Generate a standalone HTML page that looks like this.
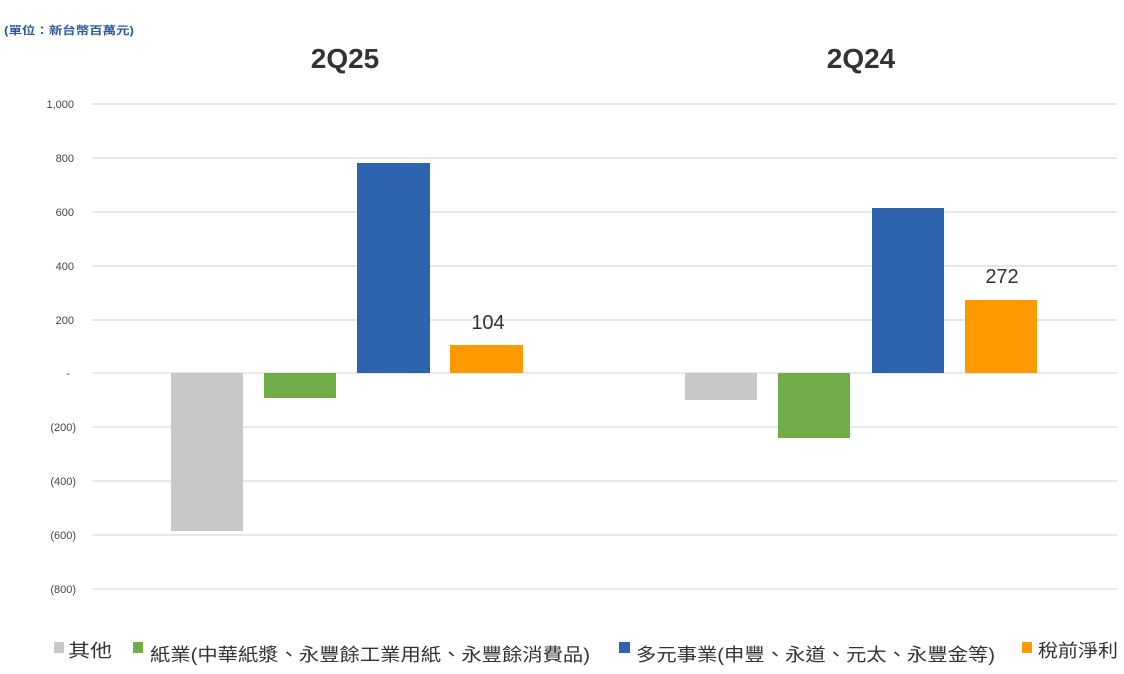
<!DOCTYPE html>
<html><head><meta charset="utf-8"><style>
body{margin:0;background:#fff;}
svg{display:block;}
</style></head><body>
<svg width="1124" height="674" viewBox="0 0 1124 674" xmlns="http://www.w3.org/2000/svg" font-family="Liberation Sans, 'Noto Sans CJK TC', sans-serif">
<text x="4" y="34" font-size="11" font-weight="bold" fill="#2a5a9a" textLength="130" lengthAdjust="spacingAndGlyphs">(單位：新台幣百萬元)</text>
<text x="345" y="68" font-size="28" font-weight="bold" fill="#333" text-anchor="middle">2Q25</text>
<text x="861" y="68" font-size="28" font-weight="bold" fill="#333" text-anchor="middle">2Q24</text>
<g stroke="#d9d9d9" stroke-width="1.2">
<line x1="92" y1="104" x2="1117" y2="104"/>
<line x1="92" y1="158" x2="1117" y2="158"/>
<line x1="92" y1="212" x2="1117" y2="212"/>
<line x1="92" y1="266" x2="1117" y2="266"/>
<line x1="92" y1="320" x2="1117" y2="320"/>
<line x1="92" y1="373" x2="1117" y2="373"/>
<line x1="92" y1="427" x2="1117" y2="427"/>
<line x1="92" y1="481" x2="1117" y2="481"/>
<line x1="92" y1="535" x2="1117" y2="535"/>
<line x1="92" y1="589" x2="1117" y2="589"/>
</g>
<g font-size="11" fill="#444" text-anchor="end">
<text x="74" y="108">1,000</text>
<text x="74" y="162">800</text>
<text x="74" y="216">600</text>
<text x="74" y="270">400</text>
<text x="74" y="324">200</text>
<text x="70" y="377">-</text>
<text x="76" y="431">(200)</text>
<text x="76" y="485">(400)</text>
<text x="76" y="539">(600)</text>
<text x="76" y="593">(800)</text>
</g>
<rect x="171" y="373" width="72" height="158" fill="#c8c8c8"/>
<rect x="264" y="373" width="72" height="25" fill="#70ad47"/>
<rect x="357" y="163" width="73" height="210" fill="#2e63b0"/>
<rect x="450" y="345" width="73" height="28" fill="#ff9900"/>
<rect x="685" y="373" width="72" height="27" fill="#c8c8c8"/>
<rect x="778" y="373" width="72" height="65" fill="#70ad47"/>
<rect x="872" y="208" width="72" height="165" fill="#2e63b0"/>
<rect x="965" y="300" width="72" height="73" fill="#ff9900"/>
<text x="488" y="329" font-size="20" fill="#333" text-anchor="middle">104</text>
<text x="1002" y="283" font-size="20" fill="#333" text-anchor="middle">272</text>
<g font-size="18" fill="#333">
<rect x="54" y="642" width="10" height="11" fill="#c8c8c8"/>
<text x="68" y="657" textLength="44" lengthAdjust="spacingAndGlyphs">其他</text>
<rect x="133" y="642" width="10" height="11" fill="#70ad47"/>
<text x="150" y="661" textLength="440" lengthAdjust="spacingAndGlyphs">紙業(中華紙漿、永豐餘工業用紙、永豐餘消費品)</text>
<rect x="619" y="642" width="11" height="11" fill="#2e63b0"/>
<text x="636" y="661" textLength="359" lengthAdjust="spacingAndGlyphs">多元事業(申豐、永道、元太、永豐金等)</text>
<rect x="1022" y="642" width="10" height="11" fill="#ff9900"/>
<text x="1038" y="657" textLength="80" lengthAdjust="spacingAndGlyphs">稅前淨利</text>
</g>
</svg>
</body></html>
